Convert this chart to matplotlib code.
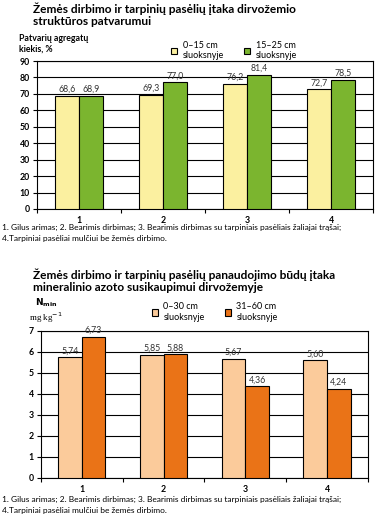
import matplotlib.pyplot as plt
import numpy as np

plt.rcParams["font.family"] = ["Lato", "DejaVu Sans"]

categories = ["1", "2", "3", "4"]

top_title = "Žemės dirbimo ir tarpinių pasėlių įtaka dirvožemio\nstruktūros patvarumui"
top_ylabel = "Patvarių agregatų\nkiekis, %"
top_series_names = ["0–15 cm\nsluoksnyje", "15–25 cm\nsluoksnyje"]
top_shallow = [68.6, 69.3, 76.2, 72.7]
top_deep = [68.9, 77.0, 81.4, 78.5]
top_yticks = [0, 10, 20, 30, 40, 50, 60, 70, 80, 90]

bottom_title = ("Žemės dirbimo ir tarpinių pasėlių panaudojimo būdų įtaka\n"
                "mineralinio azoto susikaupimui dirvožemyje")
bottom_series_names = ["0–30 cm\nsluoksnyje", "31–60 cm\nsluoksnyje"]
bottom_shallow = [5.74, 5.85, 5.67, 5.60]
bottom_deep = [6.73, 5.88, 4.36, 4.24]
bottom_yticks = [0, 1, 2, 3, 4, 5, 6, 7]

footnote = ("1. Gilus arimas; 2. Bearimis dirbimas; 3. Bearimis dirbimas su tarpiniais pasėliais žaliajai trąšai;\n"
            "4.Tarpiniai pasėliai mulčiui be žemės dirbimo.")


def draw_panel(ax, first, second, colors, names, yticks, decimals, legend_anchor, fig):
    x = np.arange(1, len(categories) + 1)
    width = 0.29
    bars = []
    for offset, values, color, name in (
        (-width / 2, first, colors[0], names[0]),
        (width / 2, second, colors[1], names[1]),
    ):
        b = ax.bar(x + offset, values, width, color=color, edgecolor="black",
                   linewidth=0.8, label=name, zorder=3)
        bars.append(b)
        for xi, v in zip(x + offset, values):
            ax.annotate(f"{v:.{decimals}f}".replace(".", ","), (xi, v),
                        textcoords="offset points", xytext=(0, 1.5),
                        ha="center", va="bottom", fontsize=6.3,
                        color="#333333", zorder=4)

    ax.set_xlim(0.5, len(categories) + 0.5)
    ax.set_ylim(yticks[0], yticks[-1])
    ax.set_yticks(yticks)
    ax.set_yticklabels([str(t) for t in yticks], fontsize=6.3, fontweight="bold")
    ax.set_xticks(x)
    ax.set_xticklabels(categories, fontsize=6.3, fontweight="bold")
    ax.set_xticks(np.arange(0.5, len(categories) + 1), minor=True)
    ax.tick_params(axis="x", which="major", length=0, pad=5)
    ax.tick_params(axis="x", which="minor", length=3, width=0.8, direction="out")
    ax.tick_params(axis="y", length=3, width=0.8, pad=2)
    ax.grid(True, axis="y", color="black", linewidth=0.8, zorder=0)
    for spine in ax.spines.values():
        spine.set_linewidth(0.8)

    fig.legend(handles=bars, loc="upper left", bbox_to_anchor=legend_anchor,
               ncol=2, frameon=False, fontsize=6.5, handlelength=0.7,
               handleheight=0.7, handletextpad=0.6, columnspacing=2.2,
               borderaxespad=0, borderpad=0)


fig = plt.figure(figsize=(3.89, 5.26), dpi=100)

ax_top = fig.add_axes([0.095, 0.6027, 0.864, 0.2813])
draw_panel(ax_top, top_shallow, top_deep, ["#FBF0A0", "#7BB52F"],
           top_series_names, top_yticks, 1, (0.44, 0.922), fig)
fig.text(0.085, 0.995, top_title, ha="left", va="top", fontsize=8.6,
         fontweight="bold", linespacing=1.1)
fig.text(0.05, 0.935, top_ylabel, ha="left", va="top", fontsize=6.3,
         fontweight="bold", linespacing=1.2)
fig.text(0.005, 0.575, footnote, ha="left", va="top", fontsize=6.0,
         linespacing=1.8)

ax_bot = fig.add_axes([0.105, 0.0913, 0.841, 0.2797])
draw_panel(ax_bot, bottom_shallow, bottom_deep, ["#FBCB9B", "#EA7317"],
           bottom_series_names, bottom_yticks, 2, (0.39, 0.425), fig)
fig.text(0.085, 0.489, bottom_title, ha="left", va="top", fontsize=8.6,
         fontweight="bold", linespacing=1.1)
fig.text(0.09, 0.424, r"$\mathbf{N_{min}}$", ha="left", va="center",
         fontsize=6.5, family="Liberation Serif")
fig.text(0.075, 0.396, r"mg kg$^{-1}$", ha="left", va="center",
         fontsize=6.5, family="Liberation Serif")
fig.text(0.005, 0.058, footnote, ha="left", va="top", fontsize=6.0,
         linespacing=1.8)

fig.savefig("out.png", dpi=100)
